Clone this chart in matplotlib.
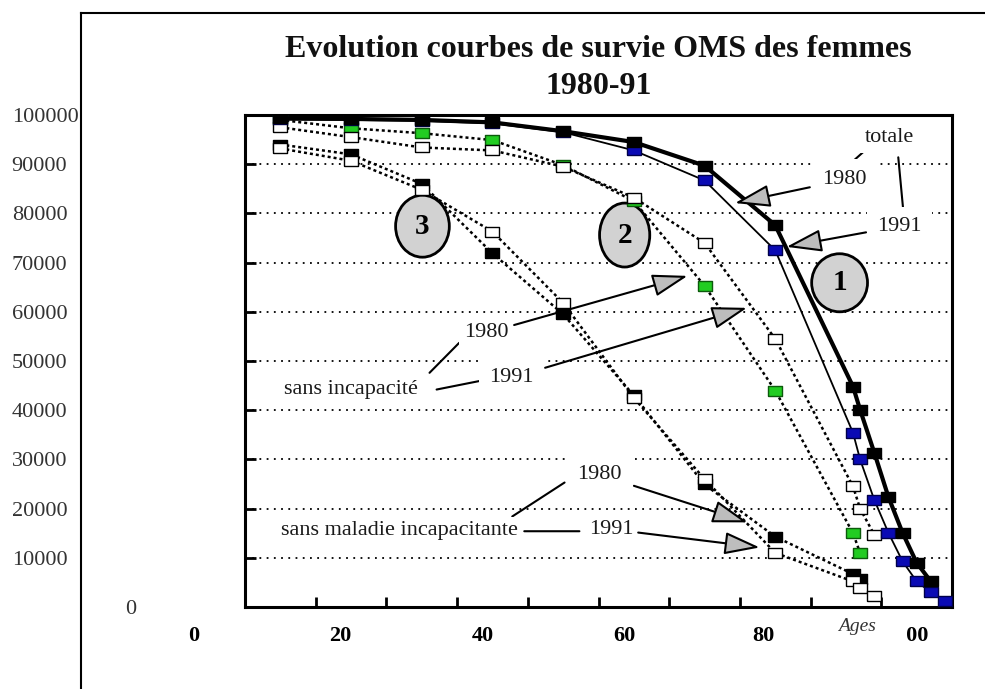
import matplotlib
matplotlib.use("Agg")
import matplotlib.pyplot as plt
import matplotlib.transforms as mtransforms
from matplotlib.patches import Ellipse
from matplotlib.lines import Line2D

# ages (x) et survivants (y)
ages = [5, 15, 25, 35, 45, 55, 65, 75, 86, 87, 89, 91, 93, 95, 97, 99]

# courbe 1 : totale
totale_noir = [99300, 99200, 99000, 98500, 96700, 94500, 89700, 77600,
               44800, 40100, 31400, 22400, 15100, 9000, 5200]
totale_bleu = [99100, 99000, 98800, 98300, 96500, 92800, 86700, 72500,
               35400, 30000, 21800, 15100, 9300, 5200, 3000, 1200]

# courbe 2 : sans incapacite
si_blanc = [97500, 95500, 93400, 92800, 89500, 83200, 74000, 54500,
            24500, 20000, 14700]
si_vert = [99000, 97300, 96300, 94900, 89800, 82500, 65300, 44000,
           15000, 11000]

# courbe 3 : sans maladie incapacitante
smi_noir = [94000, 92000, 86000, 71900, 59500, 43000, 24900, 14300,
            6700, 5600]
smi_blanc = [93200, 90700, 84800, 76300, 61800, 42500, 26000, 11000,
             5200, 3800, 2300]

x_ticks = [0, 20, 40, 60, 80, 100]
x_labels = ["0", "20", "40", "60", "80", "100"]
y_ticks = list(range(0, 100001, 10000))
y_labels = [str(v) for v in y_ticks]
titre = "Evolution courbes de survie OMS des femmes\n1980-91"

plt.rcParams['font.family'] = ['Liberation Serif', 'DejaVu Serif']

fig = plt.figure(figsize=(9.85, 6.89), dpi=100)
ax = fig.add_axes([245/985, 1-607/689, (952-245)/985, (607-115)/689])

# cadre exterieur (bord du graphique d'origine)
fig.add_artist(Line2D([81/985, 81/985], [0, 1-13/689], transform=fig.transFigure, color='k', lw=1.5))
fig.add_artist(Line2D([81/985, 1], [1-13/689, 1-13/689], transform=fig.transFigure, color='k', lw=1.5))

ax.set_xlim(0, 100)
ax.set_ylim(0, 100000)
for s in ax.spines.values():
    s.set_linewidth(2.2)

ax.set_xticks(x_ticks)
ax.set_xticklabels(x_labels)
ax.set_xticks([10, 30, 50, 70, 90], minor=True)
ax.set_yticks(y_ticks)
ax.set_yticklabels(y_labels)
ax.tick_params(axis='x', which='both', direction='in', length=7, width=2, pad=14)
ax.tick_params(axis='x', which='major', labelsize=16)
ax.tick_params(axis='y', direction='in', length=8, width=2, pad=168, labelsize=16, labelcolor='#333333')
ax.yaxis.grid(True, linestyle=(0, (1, 3)), color='k', lw=1.3, zorder=0)
ax.set_axisbelow(True)

# etiquettes decalees comme sur l'original
x_shift = [-51, -46, -45, -45, -47, -40]
for lbl, dx in zip(ax.get_xticklabels(), x_shift):
    lbl.set_fontweight('bold')
    lbl.set_transform(lbl.get_transform() + mtransforms.ScaledTranslation(dx/100, 0, fig.dpi_scale_trans))
for lbl in ax.get_yticklabels():
    lbl.set_horizontalalignment('left')
ylbl0 = ax.get_yticklabels()[0]
ylbl0.set_transform(ylbl0.get_transform() + mtransforms.ScaledTranslation(113/100, 0, fig.dpi_scale_trans))
# le "1" de 100 est masque sur l'original
lbl100 = ax.get_xticklabels()[-1]
lbl100.set_clip_on(True)
lbl100.set_clip_box(mtransforms.Bbox.from_extents(907, 0, 985, 100))

rect = [(-1.3, -1), (1.3, -1), (1.3, 1), (-1.3, 1), (-1.3, -1)]
pointille = (0, (1.2, 1.2))

ax.plot(ages[:len(smi_noir)], smi_noir, ls=pointille, lw=1.8, color='k',
        marker=rect, ms=9.5, mfc='k', mec='k', zorder=3)
ax.plot(ages[:len(smi_blanc)], smi_blanc, ls=pointille, lw=1.8, color='k',
        marker=rect, ms=9.5, mfc='white', mec='k', mew=1, zorder=3)
ax.plot(ages[:len(si_vert)], si_vert, ls=pointille, lw=1.8, color='k',
        marker=rect, ms=9.5, mfc='#22cc22', mec='#0c5a0c', mew=1, zorder=3)
ax.plot(ages[:len(si_blanc)], si_blanc, ls=pointille, lw=1.8, color='k',
        marker=rect, ms=9.5, mfc='white', mec='k', mew=1, zorder=3)
ax.plot(ages[:len(totale_bleu)], totale_bleu, ls='-', lw=1.3, color='k',
        marker=rect, ms=9.5, mfc='#0a0ab4', mec='#00004a', mew=1, zorder=4)
ax.plot(ages[:len(totale_noir)], totale_noir, ls='-', lw=3, color='k',
        marker=rect, ms=9.5, mfc='k', mec='k', zorder=4)

# cercles numerotes
for num, (cx, cy, w, h) in zip(["1", "2", "3"], [(84.1, 65900, 7.9, 11800),
                                               (53.7, 75600, 7.1, 13000),
                                               (25.1, 77400, 7.6, 12600)]):
    ax.add_patch(Ellipse((cx, cy), w, h, fc='#d2d2d2', ec='k', lw=2, zorder=2.5))
    ax.text(cx, cy, num, ha='center', va='center', fontsize=21, fontweight='bold', zorder=2.6)

fleche_props = dict(arrowstyle='-|>,head_length=1.1,head_width=0.35', fc='#bdbdbd', ec='k',
                    lw=1.5, mutation_scale=20, shrinkA=1, shrinkB=0)


def etiquette(txt, pos, pad=0.2, tip=None):
    ax.annotate(txt, xy=tip if tip else pos, xytext=pos, ha='center', va='center',
                fontsize=16, color='#1a1a1a', zorder=6,
                bbox=dict(boxstyle=f'square,pad={pad}', fc='white', ec='none'),
                arrowprops=fleche_props if tip else None)


def trait(a, b):
    ax.annotate('', xy=b, xytext=a, zorder=5,
                arrowprops=dict(arrowstyle='-', color='k', lw=1.5, shrinkA=0, shrinkB=0))


trait((87.7, 92800), (85.6, 90100))
trait((92.4, 91400), (93.1, 80700))
trait((30.3, 53700), (26.1, 47600))
trait((27.1, 44200), (34.1, 46200))
trait((45.2, 25300), (37.8, 18400))
trait((39.5, 15400), (47.3, 15400))

etiquette("totale", (91.1, 95500), pad=0.3)
etiquette("1980", (84.8, 86800), pad=0.5, tip=(69.3, 82100))
etiquette("1991", (92.6, 77400), pad=0.45, tip=(76.6, 73200))
etiquette("1980", (34.1, 55700), pad=0.2, tip=(62.6, 67300))
etiquette("1991", (37.7, 46600), pad=0.45, tip=(71.0, 60800))
etiquette("sans incapacité", (15.0, 44300), pad=0.2)
etiquette("1980", (50.1, 26900), pad=0.5, tip=(71.1, 17200))
etiquette("1991", (51.8, 15800), pad=0.15, tip=(72.8, 12100))
etiquette("sans maladie incapacitante", (21.8, 15600), pad=0.15)

ax.text(86.5, -3900, "Ages", ha='center', va='center', fontsize=14, style='italic',
        color='#333333', clip_on=False)

ax.set_title(titre, fontsize=23, fontweight='bold', pad=15, linespacing=1.35, color='#111111')

fig.savefig("out.png", dpi=100)
